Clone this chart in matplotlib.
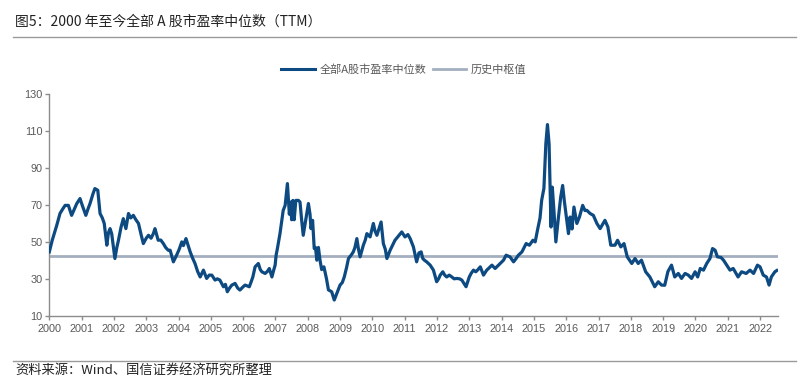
import matplotlib
matplotlib.use("Agg")
import matplotlib.pyplot as plt
from matplotlib.lines import Line2D

plt.rcParams['font.family'] = ['Liberation Sans', 'Noto Sans CJK SC', 'DejaVu Sans']

# ---- data (decimal year, median PE) ----
dates = [
    2000.00, 2000.05, 2000.09, 2000.16, 2000.23, 2000.33, 2000.42, 2000.49, 2000.59, 2000.69,
    2000.78, 2000.85, 2000.95, 2001.02, 2001.13, 2001.20, 2001.26, 2001.35, 2001.41, 2001.50,
    2001.57, 2001.64, 2001.70, 2001.78, 2001.83, 2001.88, 2001.93, 2002.03, 2002.09, 2002.14,
    2002.22, 2002.29, 2002.37, 2002.45, 2002.52, 2002.60, 2002.68, 2002.76, 2002.84, 2002.91,
    2003.00, 2003.07, 2003.15, 2003.22, 2003.27, 2003.37, 2003.45, 2003.53, 2003.60, 2003.68,
    2003.74, 2003.84, 2003.94, 2004.02, 2004.10, 2004.15, 2004.23, 2004.30, 2004.36, 2004.44,
    2004.51, 2004.59, 2004.67, 2004.77, 2004.87, 2004.95, 2005.03, 2005.13, 2005.20, 2005.28,
    2005.39, 2005.45, 2005.51, 2005.58, 2005.65, 2005.75, 2005.83, 2005.90, 2006.00, 2006.06,
    2006.19, 2006.24, 2006.30, 2006.37, 2006.47, 2006.53, 2006.58, 2006.68, 2006.75, 2006.81,
    2006.89, 2006.95, 2006.99, 2007.02, 2007.06, 2007.14, 2007.24, 2007.30, 2007.37, 2007.43,
    2007.47, 2007.50, 2007.54, 2007.58, 2007.63, 2007.71, 2007.76, 2007.81, 2007.86, 2007.92,
    2008.02, 2008.07, 2008.10, 2008.15, 2008.20, 2008.24, 2008.28, 2008.33, 2008.38, 2008.43,
    2008.50, 2008.58, 2008.64, 2008.74, 2008.82, 2008.90, 2009.00, 2009.07, 2009.13, 2009.20,
    2009.26, 2009.35, 2009.41, 2009.46, 2009.52, 2009.57, 2009.62, 2009.72, 2009.78, 2009.83,
    2009.93, 2010.03, 2010.08, 2010.14, 2010.20, 2010.27, 2010.34, 2010.40, 2010.45, 2010.55,
    2010.62, 2010.70, 2010.80, 2010.91, 2011.01, 2011.10, 2011.17, 2011.27, 2011.37, 2011.44,
    2011.51, 2011.56, 2011.61, 2011.68, 2011.79, 2011.89, 2011.99, 2012.05, 2012.10, 2012.18,
    2012.24, 2012.30, 2012.38, 2012.46, 2012.53, 2012.61, 2012.70, 2012.77, 2012.90, 2013.00,
    2013.06, 2013.13, 2013.20, 2013.27, 2013.34, 2013.44, 2013.54, 2013.62, 2013.70, 2013.80,
    2013.88, 2013.95, 2014.06, 2014.14, 2014.26, 2014.37, 2014.45, 2014.52, 2014.63, 2014.76,
    2014.86, 2014.97, 2015.04, 2015.11, 2015.19, 2015.24, 2015.31, 2015.37, 2015.42, 2015.47,
    2015.50, 2015.53, 2015.57, 2015.62, 2015.68, 2015.75, 2015.83, 2015.89, 2015.94, 2016.02,
    2016.07, 2016.12, 2016.18, 2016.24, 2016.33, 2016.41, 2016.51, 2016.58, 2016.64, 2016.74,
    2016.84, 2016.95, 2017.05, 2017.20, 2017.29, 2017.38, 2017.51, 2017.59, 2017.69, 2017.79,
    2017.89, 2018.03, 2018.13, 2018.23, 2018.33, 2018.46, 2018.59, 2018.74, 2018.85, 2018.95,
    2019.05, 2019.15, 2019.26, 2019.36, 2019.47, 2019.57, 2019.68, 2019.78, 2019.88, 2019.99,
    2020.07, 2020.15, 2020.25, 2020.35, 2020.45, 2020.53, 2020.61, 2020.68, 2020.79, 2020.87,
    2020.97, 2021.07, 2021.17, 2021.32, 2021.43, 2021.57, 2021.69, 2021.80, 2021.92, 2022.00,
    2022.10, 2022.20, 2022.28, 2022.35, 2022.46, 2022.52,
]
pe_median = [
    44.6, 48.0, 50.9, 55.0, 59.0, 65.4, 68.0, 69.8, 69.8, 64.4,
    68.0, 70.8, 73.5, 69.8, 64.4, 68.0, 70.8, 76.0, 78.9, 78.0,
    65.4, 63.0, 60.0, 48.2, 55.0, 57.2, 54.5, 41.0, 47.0, 50.9,
    58.0, 62.6, 57.2, 65.4, 63.0, 64.4, 62.0, 60.0, 54.0, 49.1,
    52.0, 53.6, 52.0, 54.5, 57.2, 50.9, 51.0, 49.1, 47.0, 45.5,
    45.5, 39.2, 42.8, 46.0, 50.0, 48.0, 51.8, 48.0, 44.6, 41.0,
    38.3, 34.0, 31.0, 34.7, 30.2, 32.0, 32.0, 29.3, 30.0, 29.3,
    25.7, 27.0, 23.0, 25.0, 26.6, 27.5, 25.0, 23.9, 25.7, 26.6,
    25.7, 28.0, 31.0, 36.5, 38.3, 35.0, 33.8, 32.9, 34.0, 35.6,
    31.0, 35.0, 37.4, 42.8, 46.4, 54.5, 67.1, 69.8, 81.6, 65.0,
    71.6, 62.0, 72.5, 62.0, 72.5, 72.5, 71.6, 62.0, 53.6, 60.0,
    70.8, 65.0, 57.2, 61.7, 46.4, 47.0, 40.1, 47.0, 40.0, 35.0,
    36.5, 30.0, 24.0, 23.0, 18.5, 22.1, 26.6, 28.0, 31.0, 36.0,
    41.0, 43.0, 44.6, 47.0, 51.8, 46.0, 41.9, 48.2, 51.0, 54.5,
    52.7, 60.0, 56.0, 53.6, 57.0, 60.8, 49.1, 46.0, 41.0, 45.5,
    48.0, 50.9, 53.0, 55.4, 52.7, 54.0, 51.8, 47.3, 39.2, 44.0,
    44.6, 41.0, 40.1, 39.2, 37.4, 34.7, 28.4, 30.0, 32.0, 33.8,
    32.0, 31.0, 32.0, 31.0, 30.0, 30.2, 30.0, 29.3, 25.7, 31.0,
    33.0, 34.7, 33.8, 35.0, 36.5, 32.0, 34.7, 36.0, 37.4, 35.6,
    37.0, 38.3, 40.1, 42.8, 41.9, 39.2, 41.0, 42.8, 44.6, 49.1,
    48.2, 50.9, 50.0, 56.3, 63.0, 72.5, 79.0, 103.2, 113.6, 103.2,
    79.7, 58.1, 79.7, 67.1, 50.0, 61.7, 74.3, 80.6, 72.5, 61.7,
    54.5, 63.5, 57.0, 68.9, 60.0, 63.5, 69.8, 67.0, 67.1, 65.4,
    64.4, 60.0, 57.2, 61.7, 58.1, 48.2, 48.2, 50.9, 47.3, 49.1,
    41.9, 38.3, 41.0, 38.3, 40.1, 33.8, 31.0, 25.7, 28.4, 26.6,
    26.5, 34.0, 37.4, 31.0, 32.9, 30.2, 32.9, 32.0, 30.2, 33.8,
    31.0, 35.6, 34.7, 38.3, 41.0, 46.4, 45.5, 41.9, 41.6, 40.1,
    37.4, 34.7, 35.6, 31.0, 33.8, 32.9, 34.7, 32.9, 37.4, 36.5,
    32.0, 31.0, 26.6, 31.0, 33.8, 34.5,
]
hist_median = 42.4
year_ticks = list(range(2000, 2023))
y_ticks = [10, 30, 50, 70, 90, 110, 130]
series_label = "全部A股市盈率中位数"
median_label = "历史中枢值"
title_text = "图5：2000 年至今全部 A 股市盈率中位数（TTM）"
source_text = "资料来源：Wind、国信证券经济研究所整理"

# ---- figure ----
fig = plt.figure(figsize=(8.06, 3.78), dpi=100)
ax = fig.add_axes([0.0612, 0.1648, 0.9038, 0.5857])

blue = "#0D4A82"
grey_line = "#A3AFC0"
tick_col = "#595959"

x_end = 2022.55
ax.plot([2000, x_end], [hist_median, hist_median], color=grey_line, lw=2.0, zorder=2)
ax.plot(dates, pe_median, color=blue, lw=2.3, zorder=3, solid_joinstyle='round')

ax.set_xlim(2000, x_end)
ax.set_ylim(10, 130)
ax.set_xticks(year_ticks)
ax.set_xticklabels([str(y) for y in year_ticks])
ax.set_yticks(y_ticks)

for s in ["top", "right"]:
    ax.spines[s].set_visible(False)
for s in ["left", "bottom"]:
    ax.spines[s].set_color("#8C8C8C")
    ax.spines[s].set_linewidth(1.0)
ax.tick_params(axis="both", colors="#8C8C8C", labelcolor=tick_col, labelsize=7.8,
               length=3, width=1.0, direction="out")
ax.tick_params(axis="x", pad=3)
ax.tick_params(axis="y", pad=2)

handles = [Line2D([], [], color=blue, lw=2.2), Line2D([], [], color=grey_line, lw=2.0)]
fig.legend(handles, [series_label, median_label], loc="center",
           bbox_to_anchor=(0.501, 0.815), ncol=2, frameon=False,
           prop={"family": ["Noto Sans CJK SC", "DejaVu Sans"], "size": 8},
           labelcolor=tick_col, handlelength=3.0, handletextpad=0.4, columnspacing=0.6)

fig.text(0.019, 1 - 22 / 378, title_text, ha="left", va="center", fontsize=10,
         color="#222222", family=["Noto Sans CJK SC", "DejaVu Sans"])
fig.add_artist(Line2D([13 / 806, 796 / 806], [1 - 37 / 378, 1 - 37 / 378],
                      color="#9A9A9A", lw=1.0))
fig.add_artist(Line2D([13 / 806, 796 / 806], [1 - 361 / 378, 1 - 361 / 378],
                      color="#9A9A9A", lw=1.0))
fig.text(0.019, 1 - 370 / 378, source_text, ha="left", va="center", fontsize=9.5,
         color="#222222", family=["Noto Sans CJK SC", "DejaVu Sans"])

fig.savefig("out.png", dpi=100)
